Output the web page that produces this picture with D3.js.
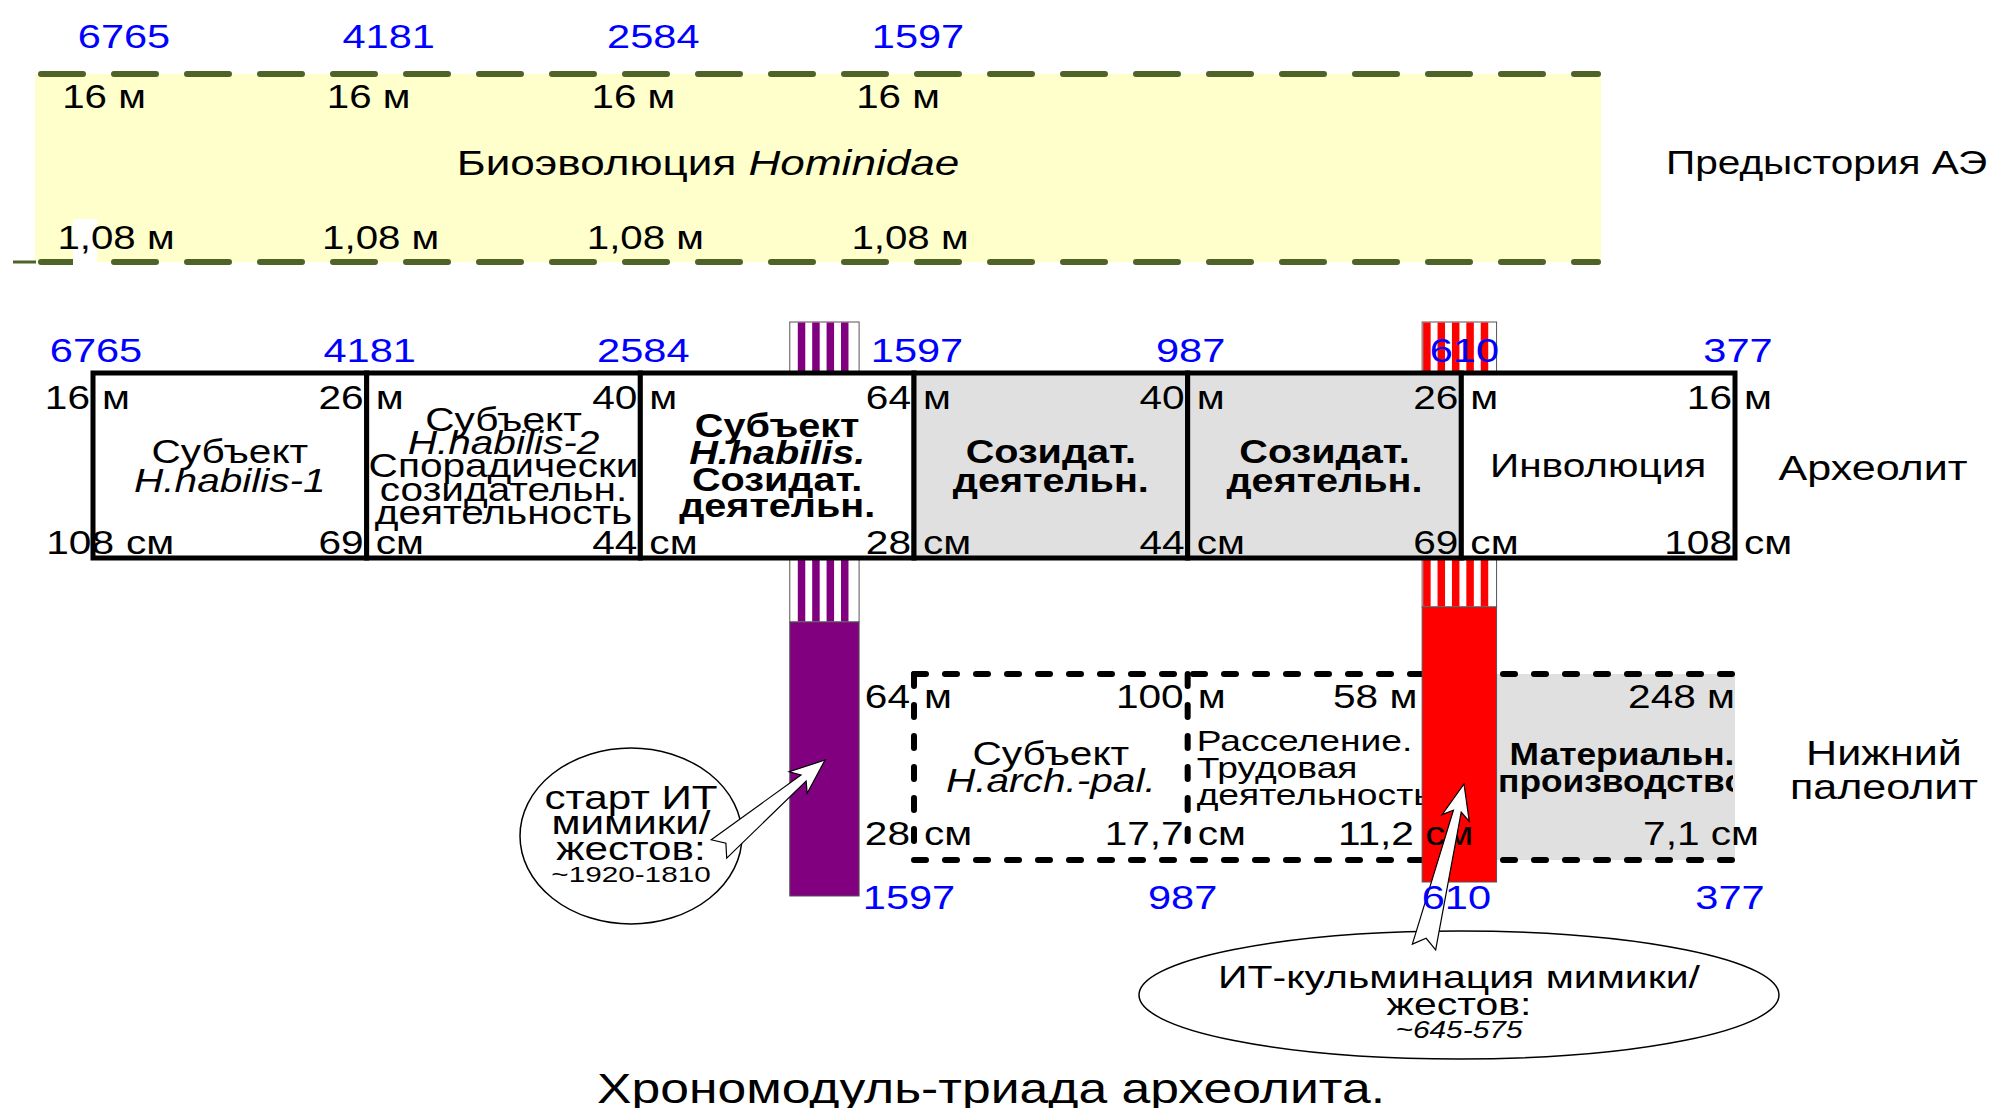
<!DOCTYPE html>
<html>
<head>
<meta charset="utf-8">
<script src="https://cdn.jsdelivr.net/npm/d3@7"></script>
<style>
  body { margin: 0; background: #fff; }
  text { font-family: "Liberation Sans", Arial, sans-serif; }
</style>
</head>
<body>
<div class="chart"></div>
<script>
// ---- data ----
var bioYears = [6765, 4181, 2584, 1597];
var bioUpper = ['16', '16', '16', '16'];
var bioLower = ['1,08', '1,08', '1,08', '1,08'];

var archYears = [6765, 4181, 2584, 1597, 987, 610, 377];
var archUpper = ['16', '26', '40', '64', '40', '26', '16'];
var archLower = ['108', '69', '44', '28', '44', '69', '108'];
var archStages = [
  [['Субъект', 'n'], ['H.habilis-1', 'i']],
  [['Субъект', 'n'], ['H.habilis-2', 'i'], ['Спорадически', 'n'], ['созидательн.', 'n'], ['деятельность', 'n']],
  [['Субъект', 'b'], ['H.habilis.', 'bi'], ['Созидат.', 'b'], ['деятельн.', 'b']],
  [['Созидат.', 'b'], ['деятельн.', 'b']],
  [['Созидат.', 'b'], ['деятельн.', 'b']],
  [['Инволюция', 'n']]
];
var archShaded = [false, false, false, true, true, false];

var lowYears = [1597, 987, 610, 377];
var lowUpper = ['64', '100', '58', '248'];
var lowLower = ['28', '17,7', '11,2', '7,1'];
var lowStages = [
  [['Субъект', 'n'], ['H.arch.-pal.', 'i']],
  [['Расселение.', 'n'], ['Трудовая', 'n'], ['деятельность', 'n']],
  [['Материальн.', 'b'], ['производство', 'b']]
];
var lowShaded = [false, false, true];

// IT bars: year spans
var itBars = [
  {name: 'start', from: 2045, to: 1795, color: '#800080'},
  {name: 'peak', from: 664, to: 580, color: '#ff0000'}
];

var rowNames = ['Предыстория АЭ', 'Археолит', 'Нижний палеолит'];
var noteStart = ['старт ИТ', 'мимики/', 'жестов:', '~1920-1810'];
var notePeak = ['ИТ-кульминация мимики/', 'жестов:', '~645-575'];
var title = 'Хрономодуль-триада археолита.';

// ---- layout ----
var width = 1989, height = 1108;
var SX = 1.23;

var svg = d3.select('.chart')
  .append('svg')
  .attr('width', width)
  .attr('height', height);

var defs = svg.append('defs');

var x = d3.scalePoint().domain(archYears).range([93, 1735]);
var xYear = d3.scaleLinear().domain(archYears).range(archYears.map(d => x(d)));
var xBio = d3.scalePoint().domain(bioYears).range([124, 918]);

function label(g, px, py, str, o) {
  o = o || {};
  var fs = o.size || 33;
  return g.append('text')
    .attr('transform', 'translate(' + px + ',' + (py + fs * 0.36) + ') scale(' + (o.sx || SX) + ',1)')
    .attr('text-anchor', o.anchor || 'middle')
    .style('font-size', fs + 'px')
    .style('font-weight', o.weight || 'normal')
    .style('font-style', o.style || 'normal')
    .style('fill', o.fill || '#000')
    .text(str);
}

function styleOf(s) {
  return {
    weight: s.indexOf('b') >= 0 ? 'bold' : 'normal',
    style: s.indexOf('i') >= 0 ? 'italic' : 'normal'
  };
}

// ---- top band: bioevolution ----
var band = svg.append('g');
var bandTop = 74, bandBottom = 262;

band.append('rect')
  .attr('x', 35).attr('y', bandTop)
  .attr('width', 1601 - 35).attr('height', bandBottom - bandTop)
  .attr('fill', '#ffffcc');

band.selectAll('line.dash')
  .data([bandTop, bandBottom])
  .enter().append('line')
  .attr('x1', 41).attr('x2', 1598)
  .attr('y1', d => d).attr('y2', d => d)
  .attr('stroke', '#4f6228')
  .attr('stroke-width', 6)
  .attr('stroke-linecap', 'round')
  .attr('stroke-dasharray', '42 31');

band.append('line')
  .attr('x1', 13).attr('x2', 36)
  .attr('y1', bandBottom).attr('y2', bandBottom)
  .attr('stroke', '#4f6228').attr('stroke-width', 3);

band.append('rect')
  .attr('x', 73).attr('y', 219).attr('width', 24).attr('height', 46)
  .attr('fill', '#fff');

bioYears.forEach(function(d, i) {
  label(band, xBio(d), 36, d, {fill: '#0000ff', sx: 1.26});
  label(band, xBio(d) - 20, 96, bioUpper[i] + ' м', {sx: 1.22});
  label(band, xBio(d) - 8, 237, bioLower[i] + ' м', {sx: 1.22});
});

var bio = label(band, 708, 162, 'Биоэволюция ', {size: 35, sx: 1.26});
bio.append('tspan').style('font-style', 'italic').text('Hominidae');
label(band, 1666, 162, rowNames[0], {anchor: 'start'});

// ---- IT bars (striped parts sit behind the archeolite boxes) ----
var barLayout = {start: {stripeTop: 322, solidTop: 622, bottom: 896, offset: 8},
                 peak:  {stripeTop: 322, solidTop: 607, bottom: 882, offset: 1}};

itBars.forEach(function(b) {
  b.x0 = xYear(b.from);
  b.x1 = xYear(b.to);
});

var barsBack = svg.append('g');
itBars.forEach(function(b) {
  var L = barLayout[b.name];
  barsBack.append('rect')
    .attr('x', b.x0).attr('y', L.stripeTop)
    .attr('width', b.x1 - b.x0).attr('height', L.solidTop - L.stripeTop)
    .attr('fill', '#fff')
    .attr('stroke', '#555').attr('stroke-width', 1);
  barsBack.selectAll('rect.stripe-' + b.name)
    .data(d3.range(b.x0 + L.offset, b.x1 - 7, 14.4))
    .enter().append('rect')
    .attr('class', 'stripe-' + b.name)
    .attr('x', d => d).attr('y', L.stripeTop + 0.5)
    .attr('width', 7.5).attr('height', L.solidTop - L.stripeTop - 1)
    .attr('fill', b.color);
});

// ---- archeolite row ----
var arch = svg.append('g');
var archTop = 373, archBottom = 558, archMid = (archTop + archBottom) / 2;

arch.selectAll('rect')
  .data(archStages)
  .enter().append('rect')
  .attr('x', (d, i) => x(archYears[i]))
  .attr('y', archTop)
  .attr('width', (d, i) => x(archYears[i + 1]) - x(archYears[i]))
  .attr('height', archBottom - archTop)
  .attr('fill', (d, i) => archShaded[i] ? '#e0e0e0' : '#fff')
  .attr('stroke', '#000')
  .attr('stroke-width', 5);

archStages.forEach(function(lines, i) {
  var cx = (x(archYears[i]) + x(archYears[i + 1])) / 2;
  var gap = lines.length >= 5 ? 23.3 : lines.length === 4 ? 26.7 : 29;
  lines.forEach(function(l, j) {
    var st = styleOf(l[1]);
    label(arch, cx, archMid + (j - (lines.length - 1) / 2) * gap, l[0],
      {weight: st.weight, style: st.style, sx: st.weight === 'bold' ? 1.2 : SX});
  });
});

archYears.forEach(function(d, i) {
  var bx = x(d), sh = i === 0 ? 24 : 0;
  label(arch, bx - 3, 397, archUpper[i], {anchor: 'end'});
  label(arch, bx + 9, 397, 'м', {anchor: 'start'});
  label(arch, bx - 3 + sh, 542, archLower[i], {anchor: 'end'});
  label(arch, bx + 9 + sh, 542, 'см', {anchor: 'start'});
});

label(arch, 1873, 467, rowNames[1], {size: 35});

// ---- lower paleolithic row ----
var low = svg.append('g');
var lowTop = 674, lowBottom = 860, lowMid = (lowTop + lowBottom) / 2;

low.selectAll('rect.shade')
  .data(lowStages)
  .enter().filter((d, i) => lowShaded[i]).append('rect')
  .attr('x', (d, i) => x(lowYears[2]))
  .attr('y', lowTop)
  .attr('width', x(lowYears[3]) - x(lowYears[2]))
  .attr('height', lowBottom - lowTop)
  .attr('fill', '#e0e0e0');

var dashStyle = function(sel) {
  sel.attr('stroke', '#000')
    .attr('stroke-width', 6)
    .attr('stroke-linecap', 'round')
    .attr('stroke-dasharray', '12 19');
};

low.selectAll('line.h')
  .data([lowTop, lowBottom])
  .enter().append('line')
  .attr('x1', x(lowYears[0])).attr('x2', x(lowYears[3]) + 4)
  .attr('y1', d => d).attr('y2', d => d)
  .call(dashStyle);

low.selectAll('line.v')
  .data(lowYears.slice(0, 3))
  .enter().append('line')
  .attr('x1', d => x(d)).attr('x2', d => x(d))
  .attr('y1', lowTop).attr('y2', lowBottom)
  .call(dashStyle);

defs.append('clipPath').attr('id', 'clip-prod')
  .append('rect')
  .attr('x', x(lowYears[2])).attr('y', lowTop)
  .attr('width', x(lowYears[3]) - x(lowYears[2]) - 2)
  .attr('height', lowBottom - lowTop);

// stage texts
(function() {
  var s0 = lowStages[0], c0 = (x(lowYears[0]) + x(lowYears[1])) / 2;
  s0.forEach(function(l, j) {
    var st = styleOf(l[1]);
    label(low, c0, lowMid + (j - 0.5) * 27, l[0], {style: st.style});
  });
  var s1 = lowStages[1];
  s1.forEach(function(l, j) {
    label(low, x(lowYears[1]) + 9, lowMid + (j - 1) * 27, l[0], {anchor: 'start', size: 30, sx: 1.24});
  });
  var s2 = lowStages[2];
  var gClip = low.append('g').attr('clip-path', 'url(#clip-prod)');
  s2.forEach(function(l, j) {
    label(gClip, 1622, lowMid + (j - 0.5) * 27, l[0], {weight: 'bold', size: 31, sx: 1.14});
  });
})();

label(low, 1884, 752, rowNames[2].split(' ')[0], {size: 35});
label(low, 1884, 786, rowNames[2].split(' ')[1], {size: 35});

// solid IT bars
itBars.forEach(function(b) {
  var L = barLayout[b.name];
  low.append('rect')
    .attr('x', b.x0).attr('y', L.solidTop)
    .attr('width', b.x1 - b.x0).attr('height', L.bottom - L.solidTop)
    .attr('fill', b.color)
    .attr('stroke', '#555').attr('stroke-width', 1);
});

// corner values
lowYears.forEach(function(d, i) {
  var bx = x(d);
  if (i < 2) {
    label(low, bx - 4, 696, lowUpper[i], {anchor: 'end'});
    label(low, bx + 10, 696, 'м', {anchor: 'start'});
    label(low, bx - 4, 833, lowLower[i], {anchor: 'end'});
    label(low, bx + 10, 833, 'см', {anchor: 'start'});
  } else {
    label(low, bx + (i === 2 ? -44 : 0), 696, lowUpper[i] + ' м', {anchor: 'end'});
    label(low, bx + (i === 2 ? 12 : 24), 833, lowLower[i] + ' см', {anchor: 'end'});
  }
});

// ---- callouts ----
var notes = svg.append('g');

function arrowPoints(tail, tip, o) {
  var dx = tip[0] - tail[0], dy = tip[1] - tail[1], len = Math.hypot(dx, dy);
  var ux = dx / len, uy = dy / len, nx = -uy, ny = ux;
  function p(a, b) { return [tail[0] + ux * a + nx * b, tail[1] + uy * a + ny * b]; }
  var hb = len - o.head;
  return [p(0, o.tail), p(hb, o.neck), p(hb - o.barb, o.wing), p(len, 0),
          p(hb - o.barb, -o.wing), p(hb, -o.neck), p(0, -o.tail), p(o.notch, 0)];
}

notes.append('ellipse')
  .attr('cx', 631).attr('cy', 836).attr('rx', 111).attr('ry', 88)
  .attr('fill', '#fff').attr('stroke', '#000').attr('stroke-width', 1.5);
noteStart.forEach(function(t, j) {
  var small = j === 3;
  label(notes, 631, [797, 822, 848, 874][j], t, {size: small ? 22 : 33, sx: small ? 1.35 : 1.28});
});

notes.append('ellipse')
  .attr('cx', 1459).attr('cy', 995).attr('rx', 320).attr('ry', 64)
  .attr('fill', '#fff').attr('stroke', '#000').attr('stroke-width', 1.5);
notePeak.forEach(function(t, j) {
  var small = j === 2;
  label(notes, 1459, [976, 1003, 1030][j], t,
    {size: small ? 23 : 32, sx: small ? 1.3 : 1.28, style: small ? 'italic' : 'normal'});
});

var arrows = [
  {tail: [719, 849], tip: [825, 760]},
  {tail: [1424, 947], tip: [1464, 784]}
];
notes.selectAll('polygon')
  .data(arrows)
  .enter().append('polygon')
  .attr('points', d => arrowPoints(d.tail, d.tip, {head: 28, neck: 4, wing: 14, barb: 7, tail: 12, notch: 9}).join(' '))
  .attr('fill', '#fff')
  .attr('stroke', '#000')
  .attr('stroke-width', 1.2);

// ---- blue year labels ----
var blue = svg.append('g');
archYears.forEach(function(d) {
  label(blue, x(d) + 3, 350, d, {fill: '#0000ff', sx: 1.26});
});
lowYears.forEach(function(d) {
  label(blue, x(d) - 5, 897, d, {fill: '#0000ff', sx: 1.26});
});

// ---- title ----
label(svg, 991, 1088, title, {size: 42});
</script>
</body>
</html>
